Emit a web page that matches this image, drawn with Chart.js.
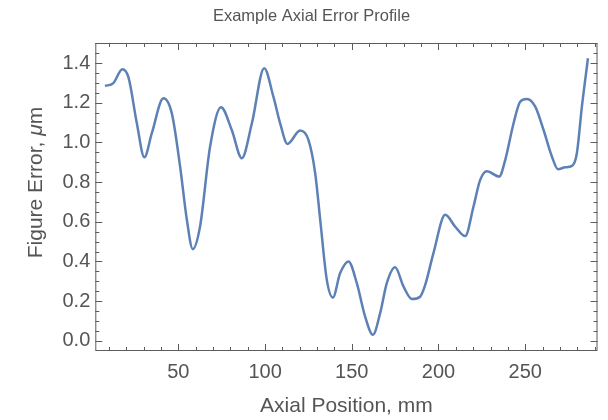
<!DOCTYPE html>
<html>
<head>
<meta charset="utf-8">
<script src="https://cdn.jsdelivr.net/npm/chart.js@4.4.1/dist/chart.umd.min.js"></script>
<style>
  html, body { margin: 0; padding: 0; background: #fff; }
  #wrap { width: 608px; height: 420px; position: relative; }
</style>
</head>
<body>
<div id="wrap"><canvas id="profile"></canvas></div>
<script>
// values (axial position mm, figure error um)
const axialPos = [7.7, 12.5, 17.7, 21.2, 26, 30.4, 34.7, 41.4, 46.2, 51, 54.9, 58.3, 62.5, 68.3, 74.6, 80.8,
  86.6, 92.4, 99.5, 104.8, 108.7, 112.9, 120.2, 125, 128.9, 131.8, 135.6, 139.1, 143.3, 148.1, 152.9, 157.7,
  162.2, 166.4, 170.2, 175, 179.8, 184.7, 189.4, 192.3, 197.1, 203.9, 209.6, 215.4, 220.2, 224, 227.9, 235,
  238.5, 243.3, 247.1, 251, 255.8, 260.6, 265.4, 268.9, 273.1, 277, 279.8, 282.7, 286.2];
const figureError = [1.285, 1.30, 1.37, 1.33, 1.10, 0.926, 1.047, 1.223, 1.148, 0.879, 0.61, 0.462, 0.576, 0.98, 1.178, 1.063,
  0.921, 1.097, 1.375, 1.231, 1.097, 0.993, 1.06, 1.013, 0.845, 0.61, 0.307, 0.218, 0.341, 0.40, 0.29, 0.122,
  0.03, 0.14, 0.29, 0.37, 0.274, 0.21, 0.222, 0.28, 0.442, 0.635, 0.576, 0.528, 0.677, 0.81, 0.855, 0.828,
  0.912, 1.097, 1.206, 1.22, 1.181, 1.063, 0.929, 0.865, 0.875, 0.882, 0.946, 1.181, 1.425];
const xTicks = [50, 100, 150, 200, 250];
const yTicks = [0, 0.2, 0.4, 0.6, 0.8, 1.0, 1.2, 1.4];

const titleText = 'Example Axial Error Profile';
const xTitle = 'Axial Position, mm';
const yTitleParts = ['Figure Error, ', '\u03BC', 'm']; // the mu is set in italics

const labelColor = '#555';
const frameColor = '#5c5c5c';
const fontFamily = '"Liberation Sans", Arial, Helvetica, sans-serif';

// frame with inward ticks on all four sides, plus the titles (Mathematica style)
const framePlugin = {
  id: 'frame',
  afterDatasetsDraw(chart) {
    const { ctx, chartArea: a, scales: { x, y } } = chart;
    ctx.save();
    ctx.strokeStyle = frameColor;
    ctx.lineWidth = 1;
    ctx.strokeRect(a.left + 0.5, a.top + 0.5, a.right - a.left - 1, a.bottom - a.top - 1);
    ctx.beginPath();
    for (let v = 10; v < x.max; v += 10) {
      const px = Math.round(x.getPixelForValue(v)) + 0.5;
      const len = v % 50 === 0 ? 7 : 4;
      ctx.moveTo(px, a.bottom); ctx.lineTo(px, a.bottom - len);
      ctx.moveTo(px, a.top); ctx.lineTo(px, a.top + len);
    }
    for (let i = 0; i * 0.05 < y.max; i++) {
      const py = Math.round(y.getPixelForValue(i * 0.05)) + 0.5;
      const len = i % 4 === 0 ? 7 : 4;
      ctx.moveTo(a.left, py); ctx.lineTo(a.left + len, py);
      ctx.moveTo(a.right, py); ctx.lineTo(a.right - len, py);
    }
    ctx.stroke();

    ctx.fillStyle = labelColor;
    ctx.textAlign = 'center';
    ctx.textBaseline = 'alphabetic';
    ctx.font = '16.5px ' + fontFamily;
    ctx.fillText(titleText, 311.5, 20.5);
    ctx.font = '21px ' + fontFamily;
    ctx.fillText(xTitle, (a.left + a.right) / 2, 411.5);

    // y title, rotated, built from parts so the mu can be italic
    const fonts = ['21px ' + fontFamily, 'italic 21px ' + fontFamily, '21px ' + fontFamily];
    const widths = yTitleParts.map((t, i) => { ctx.font = fonts[i]; return ctx.measureText(t).width; });
    const total = widths.reduce((s, w) => s + w, 0);
    ctx.translate(42, 182.5);
    ctx.rotate(-Math.PI / 2);
    ctx.textAlign = 'left';
    let pos = -total / 2;
    yTitleParts.forEach((t, i) => { ctx.font = fonts[i]; ctx.fillText(t, pos, 0); pos += widths[i]; });
    ctx.restore();
  }
};

new Chart(document.getElementById('profile'), {
  type: 'line',
  data: {
    datasets: [{
      data: axialPos.map((v, i) => ({ x: v, y: figureError[i] })),
      borderColor: '#5E81B5',
      borderWidth: 2.5,
      pointRadius: 0,
      cubicInterpolationMode: 'monotone',
      fill: false
    }]
  },
  options: {
    responsive: true,
    maintainAspectRatio: false,
    animation: false,
    layout: { padding: { top: 43, right: 10.5, bottom: 0, left: 0 } },
    plugins: { legend: { display: false }, title: { display: false }, tooltip: { enabled: false } },
    scales: {
      x: {
        type: 'linear', min: 2.1, max: 291.7,
        afterBuildTicks: s => { s.ticks = xTicks.map(v => ({ value: v })); },
        afterFit: s => { s.height = 69; },
        grid: { display: false, drawTicks: false },
        border: { display: false },
        ticks: { color: labelColor, font: { family: fontFamily, size: 20 }, padding: 9, maxRotation: 0, callback: v => String(v) }
      },
      y: {
        type: 'linear', min: -0.052, max: 1.502,
        afterBuildTicks: s => { s.ticks = yTicks.map(v => ({ value: v })); },
        afterFit: s => { s.width = 95.3; },
        grid: { display: false, drawTicks: false },
        border: { display: false },
        ticks: { color: labelColor, font: { family: fontFamily, size: 20 }, padding: 5, callback: v => v.toFixed(1) }
      }
    }
  },
  plugins: [framePlugin]
});
</script>
</body>
</html>
